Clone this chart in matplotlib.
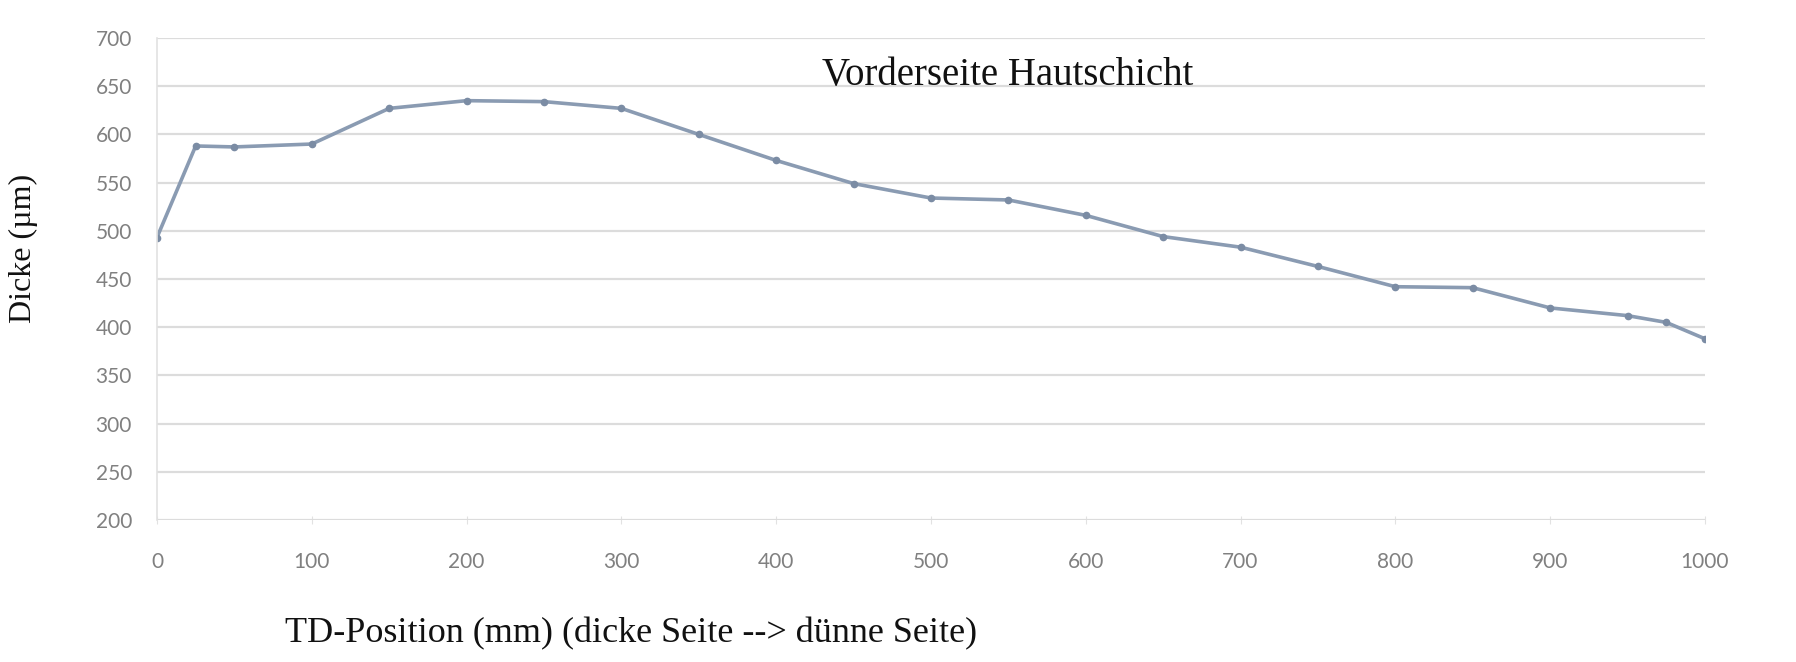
import numpy as np
import matplotlib
matplotlib.use("Agg")
import matplotlib.pyplot as plt

# TD position (mm) and skin layer thickness (um)
positions = [0, 25, 50, 100, 150, 200, 250, 300, 350, 400, 450, 500,
             550, 600, 650, 700, 750, 800, 850, 900, 950, 975, 1000]
thickness = [493, 588, 587, 590, 627, 635, 634, 627, 600, 573, 549, 534,
             532, 516, 494, 483, 463, 442, 441, 420, 412, 405, 388]

x_ticks = list(range(0, 1001, 100))
y_ticks = list(range(200, 701, 50))

title = "Vorderseite Hautschicht"
x_label = "TD-Position (mm) (dicke Seite --> dünne Seite)"
y_label = "Dicke (µm)"

if __name__ == "__main__":
    fig = plt.figure(figsize=(17.96, 6.62), dpi=100)
    ax = fig.add_axes([0.0874, 0.2145, 0.8619, 0.7281])

    ax.plot(positions, thickness, "-o", color="#8a9bb2", lw=2.6,
            markersize=4.5, markerfacecolor="#7b8ca4", markeredgecolor="#7b8ca4")

    ax.set_xlim(0, 1000)
    ax.set_ylim(200, 700)
    ax.set_xticks(x_ticks)
    ax.set_yticks(y_ticks)
    ax.grid(axis="y", color="#dcdcdc", lw=1.6)
    ax.set_axisbelow(True)

    for side in ["top", "right", "bottom"]:
        ax.spines[side].set_visible(False)
    ax.spines["left"].set_color("#e2e2e2")
    ax.spines["left"].set_linewidth(1.2)

    ax.tick_params(axis="y", length=0, pad=18, labelsize=15, labelcolor="#808080")
    ax.tick_params(axis="x", length=6, direction="inout", color="#e2e2e2",
                   pad=20, labelsize=15, labelcolor="#808080")
    for lab in ax.get_xticklabels() + ax.get_yticklabels():
        lab.set_fontfamily("Lato")

    fig.text(0.561, 0.8716, title, ha="center", va="baseline",
             fontsize=28, family="Liberation Serif", color="#111111")
    fig.text(0.1587, 0.0302, x_label, ha="left", va="baseline",
             fontsize=26, family="Liberation Serif", color="#111111")
    fig.text(0.0128, 0.6254, y_label, ha="center", va="center", rotation=90,
             fontsize=23, family="Liberation Serif", color="#111111")

    plt.savefig("out.png", dpi=100)
